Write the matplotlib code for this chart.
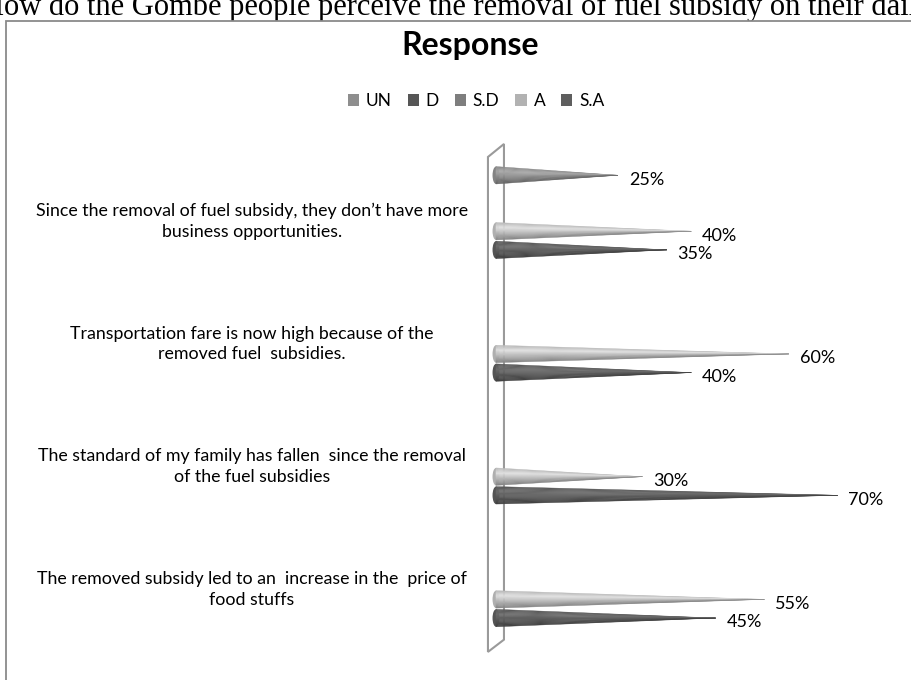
import numpy as np
import matplotlib.pyplot as plt
from matplotlib.patches import Polygon, Ellipse, Rectangle, Patch

# data (top to bottom as in the chart)
statements = [
    "Since the removal of fuel subsidy, they don\u2019t have more\nbusiness opportunities.",
    "Transportation fare is now high because of the\nremoved fuel  subsidies.",
    "The standard of my family has fallen  since the removal\nof the fuel subsidies",
    "The removed subsidy led to an  increase in the  price of\nfood stuffs",
]
series = ["UN", "D", "S.D", "A", "S.A"]
un = [25, 0, 0, 0]
d = [0, 0, 0, 0]
sd = [0, 0, 0, 0]
agree = [40, 60, 30, 55]
s_agree = [35, 40, 70, 45]
values = [un, d, sd, agree, s_agree]

legend_colors = ["#8e8e8e", "#565656", "#7e7e7e", "#b2b2b2", "#5e5e5e"]
cone_colors = ["#8a8a8a", "#555555", "#7e7e7e", "#b8b8b8", "#585858"]

plt.rcParams['font.family'] = ['Lato', 'DejaVu Sans']

W, H = 912, 680
fig = plt.figure(figsize=(W / 100, H / 100), dpi=100)

# caption of the document, cut off by the crop and the chart box
fig.text(-18 / W, 1 - 15 / H, "How do the Gombe people perceive the removal of fuel subsidy on their daily",
         family='Liberation Serif', fontsize=22, va='baseline', ha='left', zorder=-3)

# chart area box
fig.patches.append(Rectangle((6 / W, -0.1), 1.2, 1.1 - 21 / H, transform=fig.transFigure,
                             facecolor='white', edgecolor='#8a8a8a', lw=1.3, zorder=-2))

fig.text(470 / W, 1 - 46 / H, "Response", fontsize=23, fontweight='bold', ha='center', va='center')

handles = [Patch(facecolor=c, label=s) for s, c in zip(series, legend_colors)]
fig.legend(handles=handles, ncol=5, loc='center', bbox_to_anchor=(476 / W, 1 - 101 / H),
           frameon=False, fontsize=12.5, handlelength=0.65, handleheight=0.65,
           handletextpad=0.4, columnspacing=0.9)

# plot axes: 4.88 px per percent, 122.7 px per category
ax = fig.add_axes([486.2 / W, 1 - 660.5 / H, 424.6 / W, 527.7 / H])
ax.set_xlim(-2, 85)
ax.set_ylim(3.65, -0.65)
ax.axis('off')

# back wall
wall = Polygon([(-1.64, -0.453), (1.64, -0.559), (1.64, 3.48), (-1.64, 3.58)],
               closed=True, facecolor='none', edgecolor='#9a9a9a', lw=1.5, clip_on=False)
ax.add_patch(wall)

slot = 0.152
half = 0.071
nstrip = 14
shade_t = [0.0, 0.3, 1.0]
shade_m = [1.0, 1.22, 0.72]

for k, (vals, col) in enumerate(zip(values, cone_colors)):
    base = np.array(plt.matplotlib.colors.to_rgb(col))
    for c, v in enumerate(vals):
        if v <= 0:
            continue
        y = c + (k - 2) * slot
        ax.add_patch(Ellipse((0, y), 1.4, 2 * half, facecolor=base * 0.95, edgecolor='none'))
        for i in range(nstrip):
            t = (i + 0.5) / nstrip
            m = np.interp(t, shade_t, shade_m)
            fc = np.clip(base * m, 0, 1)
            y0 = y - half + 2 * half * i / nstrip
            y1 = y - half + 2 * half * (i + 1) / nstrip
            ax.add_patch(Polygon([(0, y0), (v, y), (0, y1)], closed=True,
                                 facecolor=fc, edgecolor=fc, lw=0.3))
        ax.text(v + 2.2, y + 0.035, f"{v}%", fontsize=13, va='center', ha='left')

for c, s in enumerate(statements):
    ax.annotate(s, xy=(252 / W, c + 0.07), xycoords=('figure fraction', 'data'),
                ha='center', va='center', multialignment='center', fontsize=12.8,
                linespacing=1.35, annotation_clip=False)

fig.savefig("out.png", dpi=100)
